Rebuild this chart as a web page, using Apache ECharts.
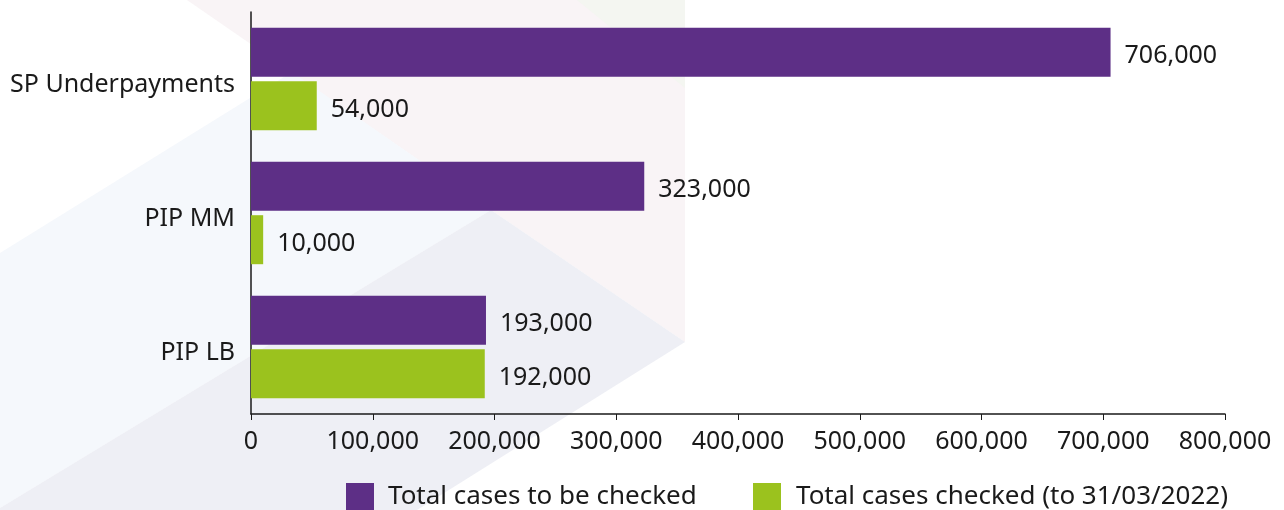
<!DOCTYPE html>
<html><head><meta charset="utf-8">
<script src="https://cdn.jsdelivr.net/npm/echarts@6/dist/echarts.min.js"></script>
<style>html,body{margin:0;padding:0;background:#fff}#c{width:1284px;height:510px}</style>
</head><body><div id="c"></div>
<script>
const categories = ['SP Underpayments', 'PIP MM', 'PIP LB'];
const toBeChecked = [706000, 323000, 193000];
const checked = [54000, 10000, 192000];
const seriesNames = ['Total cases to be checked', 'Total cases checked (to 31/03/2022)'];
const xTicks = { min: 0, max: 800000, interval: 100000 };

const FONT = '"Noto Sans", sans-serif';
const TXT = '#1a1a1a';
const fmt = v => v.toLocaleString('en-GB');

const chart = echarts.init(document.getElementById('c'), null, { renderer: 'canvas' });
chart.setOption({
  backgroundColor: '#ffffff',
  animation: false,
  textStyle: { fontFamily: FONT },
  graphic: [
    { type: 'polygon', z: -10, silent: true, shape: { points: [[187,0],[685,0],[685,342],[491,210]] }, style: { fill: '#f9f4f6' } },
    { type: 'polygon', z: -10, silent: true, shape: { points: [[577,0],[685,0],[685,88]] }, style: { fill: '#f4f6f1' } },
    { type: 'polygon', z: -10, silent: true, shape: { points: [[0,253],[292,72],[491,210],[0,508]] }, style: { fill: '#f5f8fc' } },
    { type: 'polygon', z: -10, silent: true, shape: { points: [[491,210],[685,342],[417,510],[0,510],[0,508]] }, style: { fill: '#eeeff5' } }
  ],
  grid: { left: 251, right: 59, top: 12, bottom: 96, containLabel: false },
  legend: [
    { left: 346, top: 483, padding: 0, itemWidth: 28, itemHeight: 28, icon: 'rect', data: [seriesNames[0]],
      textStyle: { fontSize: 26, color: TXT, fontFamily: FONT, padding: [0, 0, 0, 9] } },
    { left: 753, top: 483, padding: 0, itemWidth: 28, itemHeight: 28, icon: 'rect', data: [seriesNames[1]],
      textStyle: { fontSize: 26, color: TXT, fontFamily: FONT, padding: [0, 0, 0, 10] } }
  ],
  xAxis: {
    type: 'value', min: xTicks.min, max: xTicks.max, interval: xTicks.interval,
    axisLine: { show: true, lineStyle: { color: '#1a1a1a', width: 1.5 } },
    axisTick: { show: true, length: 6, lineStyle: { color: '#1a1a1a', width: 1 } },
    splitLine: { show: false },
    axisLabel: { fontSize: 25, color: TXT, margin: 15, formatter: v => fmt(v) }
  },
  yAxis: {
    type: 'category', data: categories, inverse: true,
    axisLine: { show: true, lineStyle: { color: '#1a1a1a', width: 1.5 } },
    axisTick: { show: false },
    axisLabel: { color: TXT, margin: 16,
      formatter: v => '{c|' + v + '}',
      rich: { c: { fontSize: 25, color: TXT, fontFamily: FONT, padding: [12, 0, 0, 0] } } }
  },
  series: [
    { name: seriesNames[0], type: 'bar', data: toBeChecked, barWidth: 49, barGap: '9%',
      itemStyle: { color: '#5d2f86' },
      label: { show: true, position: 'right', distance: 14, offset: [0, 4], fontSize: 25, color: TXT, formatter: p => fmt(p.value) } },
    { name: seriesNames[1], type: 'bar', data: checked, barWidth: 49, barGap: '9%',
      itemStyle: { color: '#9bc21e' },
      label: { show: true, position: 'right', distance: 14, offset: [0, 4], fontSize: 25, color: TXT, formatter: p => fmt(p.value) } }
  ]
});
</script></body></html>
